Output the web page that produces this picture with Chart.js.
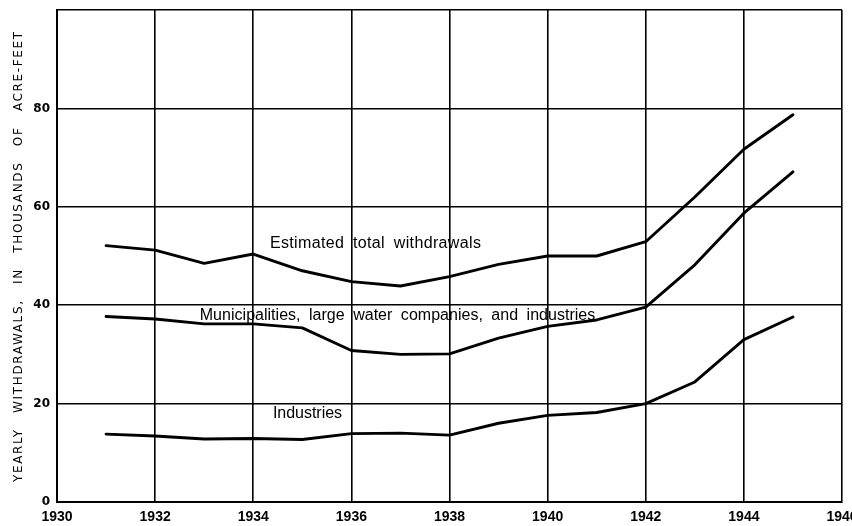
<!DOCTYPE html>
<html>
<head>
<meta charset="utf-8">
<script src="https://cdn.jsdelivr.net/npm/chart.js@4.4.1/dist/chart.umd.min.js"></script>
<style>
  html, body { margin: 0; padding: 0; background: #ffffff; }
  canvas { display: block; }
</style>
</head>
<body>
<canvas id="chart" width="852" height="526"></canvas>
<script>
// Yearly withdrawals, in thousands of acre-feet
const years = [1931, 1932, 1933, 1934, 1935, 1936, 1937, 1938, 1939, 1940, 1941, 1942, 1943, 1944, 1945];
const totalWithdrawals    = [52.1, 51.2, 48.5, 50.4, 47.0, 44.8, 43.9, 45.8, 48.3, 50.0, 50.0, 52.9, 62.0, 71.7, 78.7];
const municipalIndustrial = [37.7, 37.2, 36.2, 36.2, 35.4, 30.8, 30.0, 30.1, 33.3, 35.7, 37.0, 39.6, 48.2, 58.7, 67.1];
const industries          = [13.8, 13.4, 12.8, 12.9, 12.7, 13.9, 14.0, 13.6, 16.0, 17.6, 18.2, 20.0, 24.4, 33.0, 37.6];

const xTicks = [1930, 1932, 1934, 1936, 1938, 1940, 1942, 1944, 1946];
const yTicks = [0, 20, 40, 60, 80];
const yMax = 100;

const seriesNames = [
  'Estimated total withdrawals',
  'Municipalities, large water companies, and industries',
  'Industries'
];
const axisTitle = 'YEARLY WITHDRAWALS, IN THOUSANDS OF ACRE-FEET';

// Where each curve's name is lettered inside the plot (data units)
const curveLabels = [
  { text: seriesNames[0], from: 1934.34, to: 1938.64, base: 51.6 },
  { text: seriesNames[1], from: 1932.91, to: 1940.97, base: 36.9 },
  { text: seriesNames[2], from: 1934.40, to: 1935.81, base: 17.1 }
];

const toPoints = vals => vals.map((v, i) => ({ x: years[i], y: v }));

const lineStyle = {
  borderColor: '#000',
  borderWidth: 2.9,
  pointRadius: 0,
  tension: 0,
  fill: false,
  borderJoinStyle: 'round',
  borderCapStyle: 'round'
};

// Draw text stretched by letter spacing so it spans a given width
function spacedText(ctx, text, x, y, width, extraWord) {
  ctx.save();
  ctx.letterSpacing = '0px';
  const w0 = ctx.measureText(text).width;
  const spaces = (text.match(/ /g) || []).length;
  const chars = text.length - 1;
  const ls = (width - w0 - spaces * extraWord) / chars;
  const words = text.split(' ');
  let cx = x;
  ctx.letterSpacing = ls.toFixed(2) + 'px';
  ctx.textAlign = 'left';
  words.forEach((w, i) => {
    ctx.fillText(w, cx, y);
    cx += ctx.measureText(w).width;
    if (i < words.length - 1) {
      cx += ctx.measureText(' ').width + extraWord;
    }
  });
  ctx.restore();
}

const labelPlugin = {
  id: 'curveLabels',
  afterDatasetsDraw(chart) {
    const { ctx, scales } = chart;
    ctx.save();
    ctx.fillStyle = '#000';
    ctx.font = '16px "Liberation Sans", Arial, sans-serif';
    ctx.textBaseline = 'alphabetic';
    curveLabels.forEach(l => {
      const x0 = scales.x.getPixelForValue(l.from);
      const x1 = scales.x.getPixelForValue(l.to);
      const y = scales.y.getPixelForValue(l.base);
      spacedText(ctx, l.text, x0, y, x1 - x0, 4);
    });
    ctx.restore();
  }
};

const titlePlugin = {
  id: 'yTitle',
  afterDraw(chart) {
    const { ctx, chartArea } = chart;
    ctx.save();
    ctx.fillStyle = '#000';
    ctx.font = '12px "DejaVu Sans", sans-serif';
    ctx.textBaseline = 'middle';
    const len = 450;
    const cy = (chartArea.top + chartArea.bottom) / 2 + 1;
    ctx.translate(19, cy);
    ctx.rotate(-Math.PI / 2);
    spacedText(ctx, axisTitle, -len / 2, 0, len, 10);
    ctx.restore();
  }
};

new Chart(document.getElementById('chart'), {
  type: 'line',
  data: {
    datasets: [
      { label: seriesNames[0], data: toPoints(totalWithdrawals), ...lineStyle },
      { label: seriesNames[1], data: toPoints(municipalIndustrial), ...lineStyle },
      { label: seriesNames[2], data: toPoints(industries), ...lineStyle }
    ]
  },
  options: {
    responsive: false,
    devicePixelRatio: 1,
    animation: false,
    layout: { padding: { top: 10, right: 10, left: 0, bottom: 0 } },
    plugins: {
      legend: { display: false },
      tooltip: { enabled: false }
    },
    scales: {
      x: {
        type: 'linear',
        min: xTicks[0],
        max: xTicks[xTicks.length - 1],
        afterBuildTicks: s => { s.ticks = xTicks.map(v => ({ value: v })); },
        afterFit: s => { s.height = 24; s.paddingLeft = 0; s.paddingRight = 0; },
        grid: { color: '#000', lineWidth: 1.6, drawTicks: false },
        border: { color: '#000', width: 2 },
        ticks: {
          autoSkip: false,
          maxRotation: 0,
          padding: 7,
          color: '#000',
          font: { family: '"Liberation Sans", Arial, sans-serif', size: 14, weight: 'bold' },
          callback: v => String(v)
        }
      },
      y: {
        min: 0,
        max: yMax,
        afterBuildTicks: s => { s.ticks = yTicks.concat([yMax]).map(v => ({ value: v })); },
        afterFit: s => { s.width = 57; s.paddingTop = 0; s.paddingBottom = 0; },
        grid: { color: '#000', lineWidth: 1.6, drawTicks: false },
        border: { color: '#000', width: 2 },
        ticks: {
          padding: 7,
          color: '#000',
          font: { family: '"DejaVu Sans", sans-serif', size: 12, weight: 'bold' },
          callback: v => (yTicks.includes(v) ? String(v) : '')
        }
      }
    }
  },
  plugins: [labelPlugin, titlePlugin]
});
</script>
</body>
</html>
